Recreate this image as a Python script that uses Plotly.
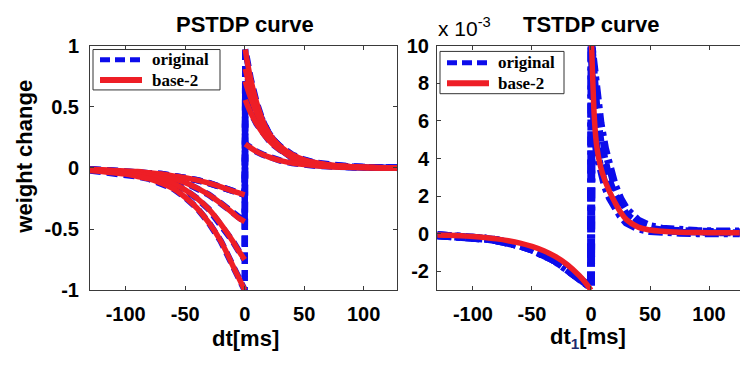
import plotly.graph_objects as go

# ---------------- PSTDP (left panel) ----------------
dt_neg = [-130, -120, -110, -100, -90, -80, -70, -60, -50, -40, -30, -20, -10, -5, 0]
dep_a = [-0.01, -0.015, -0.02, -0.025, -0.03, -0.04, -0.05, -0.065, -0.08, -0.10, -0.125, -0.155, -0.19, -0.205, -0.22]
dep_b = [-0.015, -0.02, -0.026, -0.033, -0.042, -0.055, -0.07, -0.09, -0.12, -0.165, -0.22, -0.29, -0.37, -0.41, -0.44]
dep_c = [-0.015, -0.022, -0.03, -0.038, -0.052, -0.068, -0.094, -0.128, -0.18, -0.25, -0.34, -0.46, -0.60, -0.68, -0.75]
dep_d = [-0.02, -0.03, -0.04, -0.05, -0.07, -0.09, -0.125, -0.17, -0.24, -0.33, -0.45, -0.60, -0.80, -0.90, -1.0]

dt_pos = [0.5, 2, 5, 10, 15, 20, 25, 30, 40, 50, 60, 75, 90, 110, 128]
pot_a = [0.97, 0.88, 0.73, 0.535, 0.39, 0.287, 0.21, 0.153, 0.082, 0.044, 0.024, 0.009, 0.004, 0.001, 0.0003]
pot_b = [0.81, 0.75, 0.64, 0.49, 0.377, 0.29, 0.222, 0.171, 0.101, 0.06, 0.035, 0.016, 0.007, 0.0025, 0.001]
pot_c = [0.71, 0.66, 0.575, 0.453, 0.357, 0.282, 0.222, 0.175, 0.109, 0.067, 0.042, 0.02, 0.01, 0.004, 0.0015]
pot_d = [0.557, 0.52, 0.454, 0.362, 0.288, 0.23, 0.183, 0.146, 0.093, 0.059, 0.037, 0.019, 0.01, 0.004, 0.002]
pot_e = [0.196, 0.185, 0.164, 0.134, 0.11, 0.09, 0.074, 0.06, 0.04, 0.027, 0.018, 0.01, 0.005, 0.002, 0.001]

p_dep = [dep_a, dep_b, dep_c, dep_d]
p_pot = [pot_a, pot_b, pot_c, pot_d, pot_e]
p_pairs = [(dep_d, pot_a), (dep_c, pot_b), (dep_b, pot_c), (dep_a, pot_d), (dep_a, pot_e)]

# ---------------- TSTDP (right panel), values in units of 1e-3 ----------------
t_dt_neg = [-130, -120, -110, -100, -90, -80, -70, -60, -50, -40, -30, -20, -10, -5, 0]
t_dep_red = [-0.062, -0.083, -0.113, -0.152, -0.204, -0.275, -0.371, -0.5, -0.675, -0.909, -1.225, -1.65, -2.226, -2.58, -3.0]
t_dep_blue = [-0.08, -0.11, -0.14, -0.19, -0.26, -0.35, -0.47, -0.63, -0.84, -1.1, -1.45, -1.92, -2.45, -2.72, -2.85]

t_dt_pos = [0.5, 1.5, 3, 5, 8, 12, 16, 20, 25, 30, 40, 50, 60, 75, 90, 110, 126]
t_pot_red = [10, 8.2, 6.0, 4.6, 3.6, 2.8, 2.2, 1.7, 1.15, 0.75, 0.35, 0.2, 0.13, 0.08, 0.06, 0.05, 0.05]
t_pot_blue_a = [10, 7.6, 5.6, 4.3, 3.3, 2.5, 1.9, 1.4, 0.95, 0.6, 0.28, 0.14, 0.08, 0.05, 0.03, 0.02, 0.02]
t_pot_blue_b = [10, 9.0, 7.6, 6.3, 4.9, 3.6, 2.7, 2.05, 1.45, 1.0, 0.5, 0.27, 0.17, 0.12, 0.1, 0.08, 0.08]
t_pot_blue_c = [10, 9.4, 8.5, 7.3, 5.9, 4.5, 3.4, 2.6, 1.85, 1.3, 0.7, 0.4, 0.27, 0.18, 0.14, 0.12, 0.12]
t_blue_pos = [t_pot_blue_b, t_pot_blue_a, t_pot_blue_c]

# tick labels
x_tickvals = [-100, -50, 0, 50, 100]
x_ticktext = ["-100", "-50", "0", "50", "100"]
y1_tickvals = [-1, -0.5, 0, 0.5, 1]
y1_ticktext = ["-1", "-0.5", "0", "0.5", "1"]
y2_tickvals = [-2, 0, 2, 4, 6, 8, 10]
y2_ticktext = ["-2", "0", "2", "4", "6", "8", "10"]
legend_names = ["original", "base-2"]

BLUE = "rgb(12,12,235)"
RED = "rgb(238,30,38)"
RW = 5.5
BDASH = "11px,6px"
BDASHDOT = "14px,5px,4px,5px"

fig = go.Figure()
for dep, pot in p_pairs:
    fig.add_trace(go.Scatter(
        x=dt_neg + dt_pos, y=dep + pot, mode="lines", name=legend_names[0],
        line=dict(color=BLUE, width=6.5, dash=BDASH), showlegend=False, xaxis="x", yaxis="y"))
for branch_x, branches in ((dt_neg, p_dep), (dt_pos, p_pot)):
    for yv in branches:
        fig.add_trace(go.Scatter(
            x=branch_x, y=yv, mode="lines", name=legend_names[1],
            line=dict(color=RED, width=RW, shape="spline"), showlegend=False, xaxis="x", yaxis="y"))

for i, pos in enumerate(t_blue_pos):
    fig.add_trace(go.Scatter(
        x=t_dt_neg + t_dt_pos, y=t_dep_blue + pos, mode="lines", name=legend_names[0],
        line=dict(color=BLUE, width=8, dash=BDASH if i == 0 else BDASHDOT),
        showlegend=False, xaxis="x2", yaxis="y2"))
for xv, yv in ((t_dt_neg, t_dep_red), (t_dt_pos, t_pot_red)):
    fig.add_trace(go.Scatter(
        x=xv, y=yv, mode="lines", name=legend_names[1],
        line=dict(color=RED, width=RW, shape="spline"), showlegend=False, xaxis="x2", yaxis="y2"))

W, H = 740, 365
TICKFONT = dict(family="Liberation Sans", size=20, color="black", weight="bold")
AXC = "#3a3a3a"
ydom = [1 - 297 / H, 1 - 37 / H]

common_x = dict(tickvals=x_tickvals, ticktext=x_ticktext, ticks="inside", ticklen=4,
                tickcolor=AXC, showline=True, linecolor=AXC, linewidth=1,
                showgrid=False, zeroline=False, tickfont=TICKFONT, ticklabelstandoff=6)

fig.update_layout(
    width=W, height=H, margin=dict(l=0, r=0, t=0, b=0),
    paper_bgcolor="white", plot_bgcolor="white", showlegend=False,
    xaxis=dict(domain=[90 / W, 397 / W], range=[-130, 128], anchor="y", mirror="ticks", **common_x),
    yaxis=dict(domain=ydom, range=[-1, 1], anchor="x", tickvals=y1_tickvals, ticktext=y1_ticktext,
               ticks="inside", ticklen=4, tickcolor=AXC, showline=True, linecolor=AXC, linewidth=1,
               mirror="ticks", showgrid=False, zeroline=False, tickfont=TICKFONT, ticklabelstandoff=6),
    xaxis2=dict(domain=[437 / W, 1.0], range=[-130.4, 126.2], anchor="y2", mirror="ticks", **common_x),
    yaxis2=dict(domain=ydom, range=[-3, 10], anchor="x2", tickvals=y2_tickvals, ticktext=y2_ticktext,
                ticks="inside", ticklen=4, tickcolor=AXC, showline=True, linecolor=AXC, linewidth=1,
                mirror=False, showgrid=False, zeroline=False, tickfont=TICKFONT, ticklabelstandoff=3),
)

BOLD = dict(family="Liberation Sans", size=22, color="black", weight="bold")
ann = [
    dict(text="PSTDP curve", x=245 / W, y=1 - 14 / H),
    dict(text="TSTDP curve", x=591 / W, y=1 - 14 / H),
    dict(text="weight change", x=25 / W, y=1 - 155 / H, textangle=-90),
    dict(text="dt[ms]", x=245 / W, y=1 - 348 / H),
    dict(text='dt<sub><span style="color:#1c2a6e">1</span></sub>[ms]', x=588 / W, y=1 - 348 / H),
]
for a in ann:
    fig.add_annotation(xref="paper", yref="paper", showarrow=False, font=BOLD,
                       xanchor="center", yanchor="middle", **a)
fig.add_annotation(xref="paper", yref="paper", showarrow=False, text="x 10<sup>-3</sup>",
                   x=436 / W, y=1 - 17 / H, xanchor="left", yanchor="middle",
                   font=dict(family="Liberation Sans", size=21, color="black"))

# legend boxes (one per panel), pixel positions converted to paper coords
LEGFONT = dict(family="Liberation Serif", size=17, color="black", weight="bold")
def px(x):
    return x / W
def py(y):
    return 1 - y / H

legends = [
    dict(box=(93, 41, 220, 84), sx=(100, 142), rows=(52, 73.5), tx=150),
    dict(box=(440, 43, 564, 88), sx=(447, 489), rows=(55, 77), tx=496),
]
for lg in legends:
    x0, y0, x1, y1 = lg["box"]
    fig.add_shape(type="rect", xref="paper", yref="paper", x0=px(x0), x1=px(x1), y0=py(y0), y1=py(y1),
                  line=dict(color="#333", width=1), fillcolor="white", layer="above")
    styles = [dict(color=BLUE, width=5, dash="10px,5px"), dict(color=RED, width=6)]
    for name, ry, st in zip(legend_names, lg["rows"], styles):
        fig.add_shape(type="line", xref="paper", yref="paper", x0=px(lg["sx"][0]), x1=px(lg["sx"][1]),
                      y0=py(ry), y1=py(ry), line=st, layer="above")
        fig.add_annotation(xref="paper", yref="paper", showarrow=False, text=name, font=LEGFONT,
                           x=px(lg["tx"]), y=py(ry), xanchor="left", yanchor="middle")

fig.write_html("out.html")
